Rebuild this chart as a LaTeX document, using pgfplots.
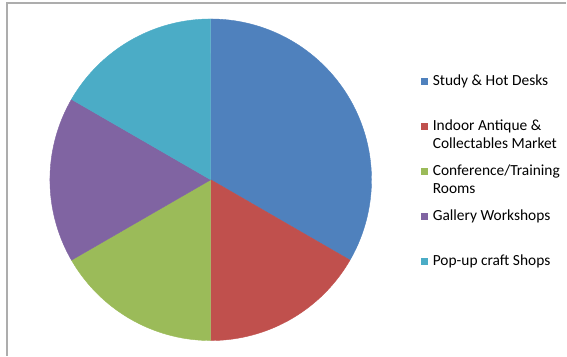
\documentclass[border=0pt]{standalone}
\usepackage{pgfplots}
\pgfplotsset{compat=1.18}
\usepackage{fontspec}
\setmainfont{Carlito}
\definecolor{c1}{HTML}{4F81BD}
\definecolor{c2}{HTML}{C0504D}
\definecolor{c3}{HTML}{9BBB59}
\definecolor{c4}{HTML}{8064A2}
\definecolor{c5}{HTML}{4BACC6}
\definecolor{frame}{HTML}{ADADAD}
% slice values
\def\va{2}\def\vb{1}\def\vc{1}\def\vd{1}\def\ve{1}
\begin{document}
\begin{tikzpicture}
\pgfmathsetmacro\tot{\va+\vb+\vc+\vd+\ve}
\pgfmathsetmacro\aA{90}
\pgfmathsetmacro\aB{\aA-360*\va/\tot}
\pgfmathsetmacro\aC{\aB-360*\vb/\tot}
\pgfmathsetmacro\aD{\aC-360*\vc/\tot}
\pgfmathsetmacro\aE{\aD-360*\vd/\tot}
\pgfmathsetmacro\aF{\aE-360*\ve/\tot}
\begin{axis}[
  scale only axis, width=567bp, height=356bp,
  xmin=0, xmax=567, ymin=0, ymax=356,
  hide axis, clip=false,
  legend cell align=left,
  legend image code/.code={\fill[#1,draw=none] (0bp,1bp) rectangle (7bp,8bp);},
  legend style={draw=none, fill=none, inner sep=0pt,
    at={(0.7437,0.7958)}, anchor=north west,
    font=\fontsize{15.5}{18}\selectfont,
    row sep=8bp,
    cells={anchor=base west},
    nodes={inner sep=0pt, text height=13bp, text depth=24bp},
    /tikz/every odd column/.append style={column sep=4.5bp}},
]
\addplot[draw=frame, line width=1.5bp, forget plot] coordinates {(7,0) (7,353) (567,353)};
\addplot[fill=c1, draw=c1, line width=0.4bp, domain=\aB:\aA, samples=100, variable=\t]
  ({211+161*cos(\t)},{176+161*sin(\t)}) -- (axis cs:211,176) -- cycle;
\addlegendentry{Study \& Hot Desks}
\addplot[fill=c2, draw=c2, line width=0.4bp, domain=\aC:\aB, samples=60, variable=\t]
  ({211+161*cos(\t)},{176+161*sin(\t)}) -- (axis cs:211,176) -- cycle;
\addlegendentry{\begin{tabular}[t]{@{}l@{}}Indoor Antique \&\\Collectables Market\end{tabular}}
\addplot[fill=c3, draw=c3, line width=0.4bp, domain=\aD:\aC, samples=60, variable=\t]
  ({211+161*cos(\t)},{176+161*sin(\t)}) -- (axis cs:211,176) -- cycle;
\addlegendentry{\begin{tabular}[t]{@{}l@{}}Conference/Training\\Rooms\end{tabular}}
\addplot[fill=c4, draw=c4, line width=0.4bp, domain=\aE:\aD, samples=60, variable=\t]
  ({211+161*cos(\t)},{176+161*sin(\t)}) -- (axis cs:211,176) -- cycle;
\addlegendentry{Gallery Workshops}
\addplot[fill=c5, draw=c5, line width=0.4bp, domain=\aF:\aE, samples=60, variable=\t]
  ({211+161*cos(\t)},{176+161*sin(\t)}) -- (axis cs:211,176) -- cycle;
\addlegendentry{Pop-up craft Shops}
\end{axis}
\useasboundingbox (current axis.south west) rectangle (current axis.north east);
\end{tikzpicture}
\end{document}
